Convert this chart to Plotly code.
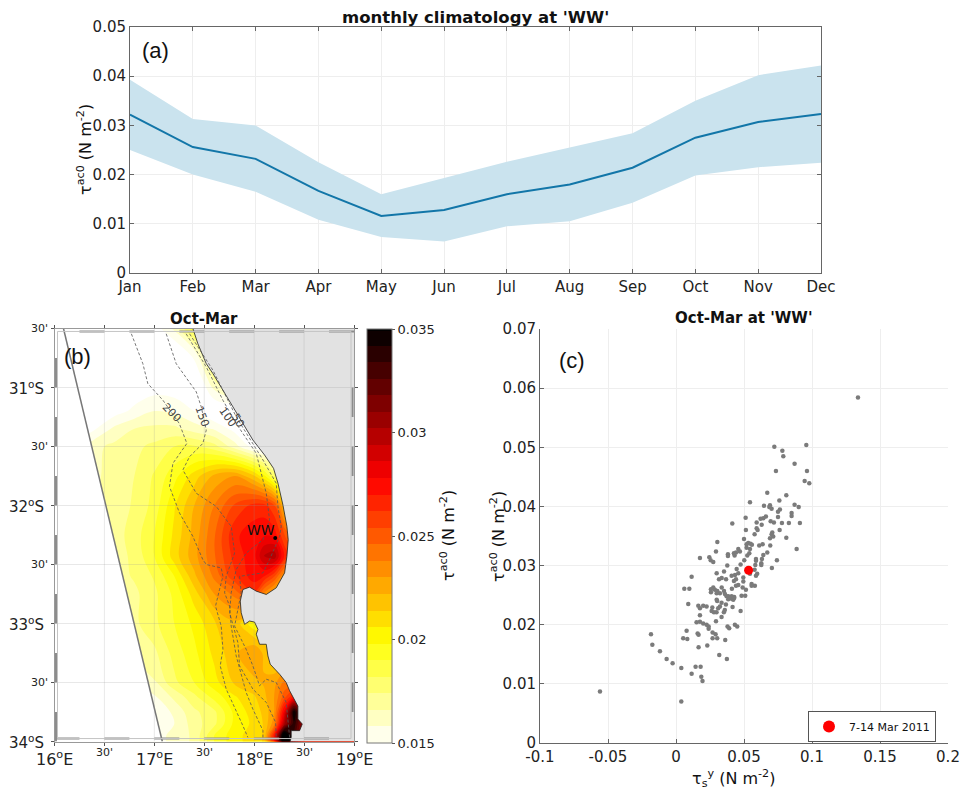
import numpy as np
import plotly.graph_objects as go

# The page keeps the browser's 8 px body margin, so the canvas is the window less that margin.
PAGE_MARGIN = 8
W, H = 952, 784
FONT = "DejaVu Sans"

# ---------- panel (a)
months = ["Jan","Feb","Mar","Apr","May","Jun","Jul","Aug","Sep","Oct","Nov","Dec"]
clim_mean = [.0322,.0256,.0232,.0167,.0116,.0128,.0160,.0180,.0214,.0275,.0307,.0323]
clim_upper = [.0393,.0313,.0300,.0225,.0160,.0193,.0226,.0255,.0284,.0350,.0402,.0422]
clim_lower = [.0250,.0200,.0165,.0108,.0073,.0064,.0095,.0105,.0143,.0198,.0215,.0224]

# ---------- panel (b): field in 1e-3 N m-2
lons = [16.0,16.4,16.6,16.8,17.0,17.2,17.4,17.6,17.8,18.0,18.1,18.2,18.3,18.4,18.5,19.0]
lats = [-30.5,-30.7,-30.9,-31.2,-31.35,-31.5,-31.75,-32.0,-32.25,-32.43,-32.6,-32.75,-33.0,-33.25,-33.5,-33.62,-33.75,-33.85,-33.95,-34.0]
field = [
 [14,14,14,14,14.5,16,19,20,20,20,20,20,20,20,20,20],
 [14,14,14,14,14,14,15.5,19,20,20,20,20,20,20,20,20],
 [14,14,14,14,14,14,14,17,19,19,19,19,19,19,19,19],
 [14,14,14.6,15.2,15.8,15.6,15,14,14,14,14,14,14,14,14,14],
 [14,14.9,16,16.6,16.8,16.8,16.2,15.7,14.7,14,14,14,14,14,14,14],
 [14,16.4,16.8,17.2,17.6,18.2,18.3,17.7,16.2,14.6,14,14,14,14,14,14],
 [14.5,16.5,16.8,17.4,18.3,19.5,21,22.4,23,21.5,20,18,17,17,17,17],
 [15,16.6,17,17.5,18.5,20.5,22.2,23.8,25.5,26.5,26.5,25.5,22,20,20,20],
 [15,16.6,17,17.8,19,20.8,22.5,24.5,26.8,27.5,27.7,27.5,25.5,24,24,24],
 [15,16.6,17,17.6,19,21,22.7,24.5,26.5,27.5,29.5,30,27,25,25,25],
 [15,16.5,17,17.5,18.3,19.8,22,24,26,27.5,27,25.5,23,22,22,22],
 [15,16,16.8,17.2,18,19.2,21,23,24,26,23.5,22,22,22,22,22],
 [15,16,16.7,17.2,18,19,20,21.3,22,20,20,20,20,20,20,20],
 [15,15,16,16.8,17.2,18.5,19.6,20.8,22,23,22,21,21,21,21,21],
 [15,15,15,15.8,16.5,18,19,20.3,21.5,22,22.3,22.7,24,24,24,24],
 [15,15,15,15,15.7,16.8,18,19.3,20.5,21.3,22,23,25,27,27,27],
 [15,15,15,15,15,16,17.2,18,20,21,21.6,23,28,35,30,30],
 [15,15,15,15,15,15.8,17,18,20,20.8,21.5,23.5,30,34,30,30],
 [15,15,15,15,15.5,16,16.8,19,20.3,21,21.5,27,37,33,30,30],
 [15,15,15,15,15.5,16,16.8,19,20.3,21,21.5,27,37,33,30,30],
]
cbar_ticks = [0.015,0.02,0.025,0.03,0.035]

coast_lon = [17.386,17.436,17.52,17.587,17.687,17.787,17.887,17.987,18.104,18.194,18.238,18.288,18.328,18.341,18.328,18.305,18.221,18.121,18.021,17.954,17.887,17.861,17.87,17.904,17.954,18.004,18.038,18.021,18.054,18.121,18.138,18.161,18.255,18.321,18.355,18.438,18.438,18.482,18.455,18.371,18.371,18.36]
coast_lat = [-30.5,-30.629,-30.798,-30.882,-31.023,-31.164,-31.305,-31.445,-31.572,-31.685,-31.81,-31.995,-32.177,-32.29,-32.43,-32.571,-32.698,-32.754,-32.726,-32.692,-32.712,-32.81,-32.909,-33.007,-32.979,-32.988,-33.05,-33.09,-33.176,-33.176,-33.275,-33.345,-33.43,-33.5,-33.57,-33.70,-33.81,-33.852,-33.908,-33.908,-33.965,-34.0]
land_lon = coast_lon + [19.0,19.0]
land_lat = coast_lat + [-34.0,-30.5]
swath_lon = [16.09,17.08]
swath_lat = [-30.5,-34.0]
offswath_lon = [16.0,16.09,17.08,16.0]
offswath_lat = [-30.5,-30.5,-34.0,-34.0]

iso200_lon=[16.77,16.885,16.935,17.086,17.25,17.326,17.186,17.152,17.253,17.386,17.486,17.52,17.67,17.687,17.653,17.613,17.67,17.687,17.66,17.72,17.887,17.937]
iso200_lat=[-30.545,-30.798,-30.967,-31.108,-31.305,-31.474,-31.643,-31.84,-32.065,-32.262,-32.459,-32.5,-32.529,-32.6,-32.712,-32.853,-33.022,-33.219,-33.359,-33.556,-33.866,-33.965]
iso150_lon=[17.119,17.219,17.42,17.47,17.52,17.486,17.353,17.286,17.42,17.62,17.77,17.804,17.72,17.704,17.754,17.77,17.82,17.92,17.987,18.088,18.088]
iso150_lat=[-30.545,-30.798,-31.037,-31.164,-31.361,-31.474,-31.586,-31.699,-31.896,-32.008,-32.177,-32.403,-32.6,-32.74,-32.853,-33.022,-33.275,-33.585,-33.725,-33.908,-33.965]
iso100_lon=[17.319,17.52,17.687,17.82,18.021,18.121,18.154,18.088,17.92,17.82,17.77,17.754,17.837,17.854,17.987,18.121,18.215,18.221]
iso100_lat=[-30.545,-30.826,-31.108,-31.305,-31.558,-31.896,-32.121,-32.29,-32.403,-32.543,-32.74,-32.909,-33.162,-33.359,-33.556,-33.669,-33.838,-33.965]
iso50_lon=[17.353,17.587,17.82,18.088,18.221,18.238,18.271,18.255,18.154,18.088,17.854,17.87,17.804,17.92,17.987,18.054,18.121,18.221,18.321,18.355]
iso50_lat=[-30.545,-30.854,-31.248,-31.614,-31.812,-32.009,-32.177,-32.262,-32.459,-32.571,-32.6,-32.74,-33.022,-33.219,-33.359,-33.528,-33.472,-33.5,-33.669,-33.965]
iso_labels = ["200","150","100","50"]
iso_label_lon = [17.17,17.48,17.737,17.837]
iso_label_lat = [-31.215,-31.243,-31.254,-31.277]
iso_label_rot = [45,70,55,60]
ww_lon, ww_lat = [18.211], [-32.276]

lon_ticks = [16,16.5,17,17.5,18,18.5,19]
lon_text = ["16<sup>o</sup>E","30'","17<sup>o</sup>E","30'","18<sup>o</sup>E","30'","19<sup>o</sup>E"]
lat_ticks = [-34,-33.5,-33,-32.5,-32,-31.5,-31,-30.5]
lat_text = ["34<sup>o</sup>S","30'","33<sup>o</sup>S","30'","32<sup>o</sup>S","30'","31<sup>o</sup>S","30'"]

# ---------- panel (c)
scat_x = [.0723,.0958,.0782,.0789,.0872,.0735,.0963,.0946,.0980,.0671,.0811,.0760,.0544,.0647,.0691,.0686,.0703,.0872,.0902,.0764,.0750,.0850,.0850,.0512,.0661,.0642,.0622,.0750,.0593,.0696,.0720,.0779,.0830,.0911,.0414,.0630,.0593,.0600,.0514,.0762,.0708,.0703,.0578,.0715,.0691,.0811,.0500,.0304,.0531,.0548,.0519,.0558,.0612,.0637,.0693,.0887,.0458,.0519,.0544,.0294,.0470,.0441,.0426,.0539,.0671,.0382,.0431,.0642,.0524,.0382,.0176,.0245,.0588,.0632,.0255,.0274,.0588,.0502,.0742,.0475,.0583,.0627,.0377,.0627,.0705,.0446,.0353,.0578,.0299,.0597,.0458,.0434,.0409,.0544,.0588,.0115,.0316,.0336,.0368,.0495,.0441,.0426,.0495,.0556,.0458,.0441,.0580,.0556,.0411,.0274,.0336,.0490,.0514,.0061,.0098,.0257,.0286,.0304,.0353,.0257,.0299,.0323,.0360,.0482,.0509,.0384,.0409,.0428,.0299,.0384,.0409,
 .0090,.0164,.0200,.0225,.0176,.0267,.0303,.0335,.0367,.0421,.0404,.0428,.0372,.0323,.0310,.0359,.0416,.0262,.0279,.0298,.0352,.0475,.0176,.0335,.0294,.0151,.0176,.0200,.0225,.0240,.0240,.0379,.0391,.0433,.0450,.0078,.0159,.0166,.0269,.0291,-.0184,.0053,.0083,.0269,.0303,.0362,-.0174,.0166,.0230,-.0118,.0318,-.0069,.0374,-.0025,.0144,.0181,.0039,.0115,.0186,.0195,-.0559,.0039,.1338]
scat_y = [.0501,.0504,.0494,.0485,.0472,.0460,.0460,.0443,.0439,.0423,.0419,.0410,.0407,.0401,.0402,.0399,.0396,.0403,.0399,.0395,.0391,.0389,.0384,.0381,.0383,.0380,.0379,.0382,.0373,.0375,.0373,.0372,.0372,.0372,.0371,.0369,.0363,.0360,.0360,.0360,.0356,.0353,.0353,.0349,.0346,.0347,.0345,.0340,.0338,.0337,.0336,.0335,.0334,.0336,.0334,.0328,.0328,.0330,.0328,.0324,.0324,.0322,.0321,.0321,.0322,.0319,.0317,.0318,.0317,.0316,.0313,.0314,.0311,.0311,.0309,.0306,.0308,.0309,.0309,.0302,.0301,.0304,.0300,.0301,.0296,.0294,.0290,.0293,.0287,.0286,.0287,.0284,.0283,.0286,.0283,.0281,.0277,.0279,.0277,.0280,.0277,.0274,.0273,.0269,.0267,.0266,.0266,.0266,.0261,.0263,.0263,.0263,.0259,.0261,.0261,.0260,.0259,.0257,.0257,.0255,.0253,.0253,.0252,.0249,.0249,.0248,.0248,.0247,.0242,.0243,.0244,
 .0235,.0232,.0232,.0231,.0228,.0229,.0240,.0237,.0234,.0242,.0246,.0245,.0248,.0231,.0228,.0225,.0230,.0223,.0221,.0221,.0221,.0223,.0216,.0213,.0206,.0204,.0205,.0202,.0200,.0197,.0193,.0197,.0194,.0200,.0197,.0190,.0185,.0183,.0187,.0184,.0184,.0177,.0176,.0177,.0177,.0174,.0166,.0162,.0165,.0155,.0149,.0142,.0142,.0135,.0129,.0129,.0127,.0117,.0112,.0105,.0087,.0070,.0584]
event_x, event_y = [.0534], [.0292]
event_name = "7-14 Mar 2011"

def X(px): return (px - PAGE_MARGIN) / W
def Y(py): return 1 - (py - PAGE_MARGIN) / H
def dx(a, b): return [X(a), X(b)]
def dy(t, b): return [Y(b), Y(t)]

fig = go.Figure()
# (a)
fig.add_trace(go.Scatter(x=months, y=clim_upper, mode="lines", line=dict(width=0), showlegend=False, xaxis="x", yaxis="y"))
fig.add_trace(go.Scatter(x=months, y=clim_lower, mode="lines", line=dict(width=0), fill="tonexty", fillcolor="#cae3ee", showlegend=False, xaxis="x", yaxis="y"))
fig.add_trace(go.Scatter(x=months, y=clim_mean, mode="lines", line=dict(color="#1276a8", width=2), showlegend=False, xaxis="x", yaxis="y"))

# (b)
z = (np.array(field) / 1000.0).tolist()
cscale = [[0, "#ffffff"], [0.25, "#ffff00"], [0.635, "#ff0000"], [1, "#000000"]]
fig.add_trace(go.Contour(x=lons, y=lats, z=z, zmin=0.015, zmax=0.035, colorscale=cscale,
    contours=dict(start=0.015, end=0.035, size=0.0008, coloring="fill", showlines=False), line=dict(width=0),
    colorbar=dict(x=X(367), xanchor="left", y=Y(743), yanchor="bottom", len=414/H, lenmode="fraction", thickness=25,
                  thicknessmode="pixels", xpad=0, ypad=0,
                  tickvals=cbar_ticks, ticktext=["0.015","0.02","0.025","0.03","0.035"], ticks="outside", ticklen=3, tickcolor="#555",
                  tickfont=dict(family=FONT, size=13, color="#222"), outlinecolor="#777", outlinewidth=1),
    xaxis="x2", yaxis="y2", showlegend=False))
fig.add_trace(go.Scatter(x=offswath_lon, y=offswath_lat, fill="toself", fillcolor="white", mode="none", showlegend=False, xaxis="x2", yaxis="y2"))
fig.add_trace(go.Scatter(x=land_lon, y=land_lat, fill="toself", fillcolor="#e2e2e2", mode="none", showlegend=False, xaxis="x2", yaxis="y2"))
fig.add_trace(go.Scatter(x=coast_lon, y=coast_lat, mode="lines", line=dict(color="#222", width=0.8), showlegend=False, xaxis="x2", yaxis="y2"))
fig.add_trace(go.Scatter(x=swath_lon, y=swath_lat, mode="lines", line=dict(color="#777", width=1.5), showlegend=False, xaxis="x2", yaxis="y2"))
for ix, iy in [(iso200_lon, iso200_lat), (iso150_lon, iso150_lat), (iso100_lon, iso100_lat), (iso50_lon, iso50_lat)]:
    fig.add_trace(go.Scatter(x=ix, y=iy, mode="lines", line=dict(color="#555", width=0.8, dash="3px,2px"), showlegend=False, xaxis="x2", yaxis="y2"))
# map grid (drawn above the field)
gx, gy = [], []
for v in lon_ticks[1:-1]:
    gx += [v, v, None]; gy += [-34, -30.5, None]
for v in lat_ticks[1:-1]:
    gx += [16, 19, None]; gy += [v, v, None]
fig.add_trace(go.Scatter(x=gx, y=gy, mode="lines", line=dict(color="rgba(150,150,150,0.22)", width=1), showlegend=False, xaxis="x2", yaxis="y2"))
# map frame segments
fx, fy = [], []
ins_x, ins_y = 0.03, 0.025
for a in [16.25, 16.75, 17.25, 17.75, 18.25, 18.75]:
    fx += [a, a + .25, None]; fy += [-30.5 - ins_y, -30.5 - ins_y, None]
for a in [16.0, 16.5, 17.0, 17.5, 18.0, 18.5]:
    fx += [a, a + .25, None]; fy += [-34 + ins_y, -34 + ins_y, None]
for a in [-31.0, -32.0, -33.0, -31.5, -32.5, -33.5]:
    fx += [19 - ins_x/2, 19 - ins_x/2, None]; fy += [a, a - .25, None]
for a in [-30.75, -31.25, -31.75, -32.25, -32.75, -33.25, -33.75]:
    fx += [16 + ins_x/2, 16 + ins_x/2, None]; fy += [a, a - .25, None]
fig.add_trace(go.Scatter(x=fx, y=fy, mode="lines", line=dict(color="#8c8c8c", width=2), showlegend=False, xaxis="x2", yaxis="y2"))
fig.add_trace(go.Scatter(x=[16+ins_x, 19-ins_x, 19-ins_x, 16+ins_x, 16+ins_x], y=[-30.5-ins_y, -30.5-ins_y, -34+ins_y, -34+ins_y, -30.5-ins_y],
    mode="lines", line=dict(color="#c4c4c4", width=1), showlegend=False, xaxis="x2", yaxis="y2"))
fig.add_trace(go.Scatter(x=ww_lon, y=ww_lat, mode="markers", marker=dict(color="black", size=4), showlegend=False, xaxis="x2", yaxis="y2"))

# (c)
fig.add_trace(go.Scatter(x=scat_x, y=scat_y, mode="markers", marker=dict(color="#7b7b7b", size=4.5), showlegend=False, xaxis="x3", yaxis="y3"))
fig.add_trace(go.Scatter(x=event_x, y=event_y, mode="markers", marker=dict(color="#ff0000", size=9), name=event_name, showlegend=True, xaxis="x3", yaxis="y3"))

axc = dict(showline=True, linecolor="#666", linewidth=1, ticks="inside", ticklen=4, tickcolor="#666",
           gridcolor="#eeeeee", gridwidth=1, zeroline=False, tickfont=dict(family=FONT, size=15, color="#222"))
annos = []
def note(text, x, y, size=15, family=FONT, rot=0, color="#111"):
    annos.append(dict(text=text, x=X(x), y=Y(y), xref="paper", yref="paper", xanchor="center", yanchor="middle",
                      showarrow=False, textangle=rot, font=dict(family=family, size=size, color=color)))

note("<b>monthly climatology at 'WW'</b>", 475, 17, 16.5)
note("<b>Oct-Mar</b>", 204, 319, 15)
note("<b>Oct-Mar at 'WW'</b>", 744, 318, 15)
note("(a)", 155, 51, 22, "Liberation Sans")
note("(b)", 77, 356, 22, "Liberation Sans")
note("(c)", 572, 360, 22, "Liberation Sans")
note("τ<sup>ac0</sup> (N m<sup>-2</sup>)", 84, 150, 16, rot=-90)
note("τ<sup>ac0</sup> (N m<sup>-2</sup>)", 497, 536, 16, rot=-90)
note("τ<sup>ac0</sup> (N m<sup>-2</sup>)", 447, 536, 16, rot=-90)
note("τ<sub>s</sub><sup>y</sup> (N m<sup>-2</sup>)", 733, 778, 16)
for t, lo, la, r in zip(iso_labels, iso_label_lon, iso_label_lat, iso_label_rot):
    annos.append(dict(text=t, x=lo, y=la, xref="x2", yref="y2", showarrow=False, textangle=r, font=dict(family=FONT, size=11, color="#444")))
annos.append(dict(text="WW", x=18.07, y=-32.21, xref="x2", yref="y2", showarrow=False, font=dict(family=FONT, size=14, color="#111")))
# map tick labels
for v, t in zip(lon_ticks, lon_text):
    big = t != "30'"
    annos.append(dict(text=t, x=v, y=Y(758 if big else 752), xref="x2", yref="paper", xanchor="center", yanchor="middle", showarrow=False,
                      font=dict(family=FONT, size=16 if big else 11, color="#222")))
for v, t in zip(lat_ticks, lat_text):
    big = t != "30'"
    annos.append(dict(text=t, x=X(46 if big else 50), y=v, xref="paper", yref="y2", xanchor="right", yanchor="middle", showarrow=False,
                      yshift=0 if big else 0, font=dict(family=FONT, size=15 if big else 11, color="#222")))

fig.update_layout(
    width=W, height=H, autosize=False, margin=dict(l=0, r=0, t=0, b=0, autoexpand=False), paper_bgcolor="white", plot_bgcolor="white",
    font=dict(family=FONT), annotations=annos,
    xaxis=dict(axc, domain=dx(130, 821), range=[0, 11], type="category", anchor="y", mirror="allticks", tickmode="array", tickvals=months, ticktext=months, showgrid=True),
    yaxis=dict(axc, domain=dy(27, 273), range=[0, 0.05], anchor="x", tickvals=[0,.01,.02,.03,.04,.05], ticktext=["0","0.01","0.02","0.03","0.04","0.05"], mirror="allticks"),
    xaxis2=dict(domain=dx(54.5, 354), range=[16, 19], anchor="y2", tickvals=lon_ticks, showticklabels=False, showgrid=False, zeroline=False,
                showline=True, linecolor="#999", mirror="allticks", ticks="outside", ticklen=3, tickcolor="#555"),
    yaxis2=dict(domain=dy(328.5, 741.5), range=[-34, -30.5], anchor="x2", tickvals=lat_ticks, showticklabels=False, showgrid=False, zeroline=False,
                showline=True, linecolor="#999", mirror="allticks", ticks="outside", ticklen=3, tickcolor="#555"),
    xaxis3=dict(axc, domain=dx(540, 948), range=[-0.1, 0.2], anchor="y3", tickvals=[-.1,-.05,0,.05,.1,.15,.2], ticktext=["-0.1","-0.05","0","0.05","0.1","0.15","0.2"]),
    yaxis3=dict(axc, domain=dy(329, 743), range=[0, 0.07], anchor="x3", tickvals=[0,.01,.02,.03,.04,.05,.06,.07], ticktext=["0","0.01","0.02","0.03","0.04","0.05","0.06","0.07"]),
    legend=dict(x=X(808), y=Y(711), xanchor="left", yanchor="top", bordercolor="#555", borderwidth=1, bgcolor="white",
                font=dict(family=FONT, size=11, color="#111"), itemsizing="constant", tracegroupgap=0),
)
fig.write_html("out.html")
